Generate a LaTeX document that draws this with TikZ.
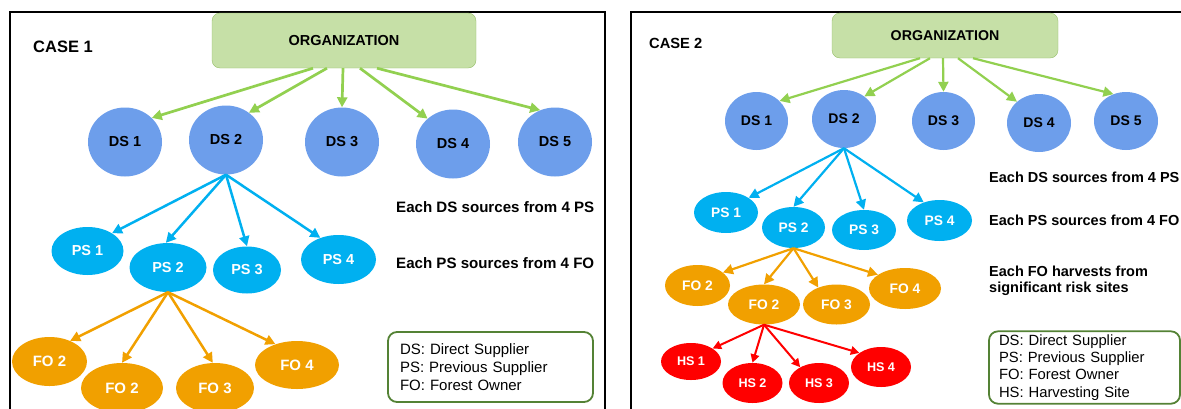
\documentclass[tikz,border=0pt]{standalone}
\usepackage{fontspec}
\setmainfont{Liberation Sans}
\usepackage{tikz}
\usetikzlibrary{arrows.meta,shapes}
\definecolor{orgfill}{RGB}{198,224,167}
\definecolor{orgline}{RGB}{150,190,105}
\definecolor{arrowgreen}{RGB}{146,208,80}
\definecolor{dsblue}{RGB}{109,158,235}
\definecolor{psblue}{RGB}{0,176,240}
\definecolor{foorange}{RGB}{241,160,0}
\definecolor{hsred}{RGB}{255,0,0}
\definecolor{keygreen}{RGB}{84,130,53}

\begin{document}
\begin{tikzpicture}[x=1pt,y=-1pt,
    orgbox/.style={rectangle,draw=orgline,fill=orgfill,rounded corners=8pt,font=\fontsize{14.5}{17}\selectfont\bfseries},
    dsnode/.style={ellipse,fill=dsblue,inner sep=0pt,minimum width=74pt,minimum height=69pt,font=\fontsize{14.5}{17}\selectfont\bfseries},
    psnode/.style={ellipse,fill=psblue,text=white,inner sep=0pt,font=\fontsize{14.5}{17}\selectfont\bfseries},
    fonode/.style={ellipse,fill=foorange,text=white,inner sep=0pt,font=\fontsize{15}{17}\selectfont\bfseries},
    hsnode/.style={ellipse,fill=hsred,text=white,inner sep=0pt,minimum width=60pt,minimum height=40pt,font=\fontsize{12.6}{15}\selectfont\bfseries},
    remark/.style={anchor=west,align=left,inner sep=0pt,font=\fontsize{14.5}{16}\selectfont\bfseries},
    keybox/.style={rectangle,draw=keygreen,line width=1.8pt,rounded corners=9pt,align=left},
    garrow/.style={-{Triangle[length=10pt,width=10pt]},line width=2.7pt,arrowgreen},
    barrow/.style={-{Triangle[length=10pt,width=10pt]},line width=2.5pt,psblue},
    oarrow/.style={-{Triangle[length=10pt,width=10pt]},line width=2.5pt,foorange},
    rarrow/.style={-{Triangle[length=8.5pt,width=8.5pt]},line width=2pt,hsred}]

    \useasboundingbox (0,0) rectangle (1181,408);
    \clip (0,0) rectangle (1181,408);

    % Case 1 (left)
    \draw[line width=2pt] (10,12) rectangle (605,430);
    \node[anchor=west,inner sep=0pt,font=\fontsize{16.5}{19}\selectfont\bfseries] (caseA) at (33,47) {CASE 1};
    \node[orgbox,minimum width=264pt,minimum height=55pt] (orgA) at (344,40.5) {ORGANIZATION};

    \node[dsnode] (dsA1) at (125,142) {DS 1};
    \node[dsnode] (dsA2) at (226,140) {DS 2};
    \node[dsnode] (dsA3) at (342,142) {DS 3};
    \node[dsnode] (dsA4) at (453,144) {DS 4};
    \node[dsnode] (dsA5) at (555,142) {DS 5};

    \node[psnode,minimum width=72pt,minimum height=48pt] (psA1) at (87.5,251) {PS 1};
    \node[psnode,minimum width=77pt,minimum height=49pt] (psA2) at (168,267.5) {PS 2};
    \node[psnode,minimum width=68pt,minimum height=47pt] (psA3) at (247,270) {PS 3};
    \node[psnode,minimum width=75pt,minimum height=49pt] (psA4) at (338.5,259.5) {PS 4};

    \node[fonode,minimum width=75pt,minimum height=49pt] (foA1) at (49.5,361.5) {FO 2};
    \node[fonode,minimum width=82pt,minimum height=50pt] (foA2) at (122,388) {FO 2};
    \node[fonode,minimum width=78pt,minimum height=50pt] (foA3) at (215,388) {FO 3};
    \node[fonode,minimum width=84pt,minimum height=48pt] (foA4) at (297,365) {FO 4};

    \node[remark,font=\fontsize{15.1}{17}\selectfont\bfseries] (noteA1) at (396,207) {Each DS sources from 4 PS};
    \node[remark,font=\fontsize{15.1}{17}\selectfont\bfseries] (noteA2) at (396,263) {Each PS sources from 4 FO};
    \node[keybox,minimum width=205pt,minimum height=70pt,text width=181pt,font=\fontsize{15}{18}\selectfont] (keyA) at (490.5,367)
        {DS: Direct Supplier\\PS: Previous Supplier\\FO: Forest Owner};

    \draw[garrow] ([xshift=-31pt]orgA.south) -- (dsA1.42);
    \draw[garrow] ([xshift=-17pt]orgA.south) -- (dsA2.50);
    \draw[garrow] ([xshift=-1pt]orgA.south) -- (dsA3.north);
    \draw[garrow] ([xshift=16pt]orgA.south) -- (dsA4.135);
    \draw[garrow] ([xshift=33pt]orgA.south) -- (dsA5.115);

    \draw[barrow] (dsA2.south) -- (psA1.36);
    \draw[barrow] (dsA2.south) -- (psA2.95);
    \draw[barrow] (dsA2.south) -- (psA3.north);
    \draw[barrow] (dsA2.south) -- (psA4.130);

    \draw[oarrow] (psA2.south) -- (foA1.45);
    \draw[oarrow] (psA2.south) -- (foA2.north);
    \draw[oarrow] (psA2.south) -- (foA3.95);
    \draw[oarrow] (psA2.south) -- (foA4.136);

    % Case 2 (right)
    \draw[line width=2pt] (631,12) rectangle (1200,430);
    \node[anchor=west,inner sep=0pt,font=\fontsize{14.7}{17}\selectfont\bfseries] (caseB) at (649,43) {CASE 2};
    \node[orgbox,minimum width=226pt,minimum height=45pt,font=\fontsize{14.2}{17}\selectfont\bfseries] (orgB) at (945,35.5) {ORGANIZATION};

    \node[dsnode,minimum width=63pt,minimum height=58pt,font=\fontsize{14}{17}\selectfont\bfseries] (dsB1) at (756.5,121) {DS 1};
    \node[dsnode,minimum width=64pt,minimum height=58pt,font=\fontsize{14}{17}\selectfont\bfseries] (dsB2) at (844,119) {DS 2};
    \node[dsnode,minimum width=63pt,minimum height=58pt,font=\fontsize{14}{17}\selectfont\bfseries] (dsB3) at (943.5,121) {DS 3};
    \node[dsnode,minimum width=64pt,minimum height=58pt,font=\fontsize{14}{17}\selectfont\bfseries] (dsB4) at (1039,123) {DS 4};
    \node[dsnode,minimum width=64pt,minimum height=58pt,font=\fontsize{14}{17}\selectfont\bfseries] (dsB5) at (1126,121) {DS 5};

    \node[psnode,minimum width=64pt,minimum height=41pt,font=\fontsize{13.8}{16}\selectfont\bfseries] (psB1) at (726,212.5) {PS 1};
    \node[psnode,minimum width=63pt,minimum height=41pt,font=\fontsize{13.8}{16}\selectfont\bfseries] (psB2) at (793.5,227.5) {PS 2};
    \node[psnode,minimum width=64pt,minimum height=40pt,font=\fontsize{13.8}{16}\selectfont\bfseries] (psB3) at (864,230) {PS 3};
    \node[psnode,minimum width=65pt,minimum height=41pt,font=\fontsize{13.8}{16}\selectfont\bfseries] (psB4) at (939.5,220.5) {PS 4};

    \node[fonode,minimum width=65pt,minimum height=41pt,font=\fontsize{13.8}{16}\selectfont\bfseries] (foB1) at (697.5,285.5) {FO 2};
    \node[fonode,minimum width=72pt,minimum height=40pt,font=\fontsize{13.8}{16}\selectfont\bfseries] (foB2) at (764,304.5) {FO 2};
    \node[fonode,minimum width=67pt,minimum height=40pt,font=\fontsize{13.8}{16}\selectfont\bfseries] (foB3) at (836.5,304.5) {FO 3};
    \node[fonode,minimum width=72pt,minimum height=41pt,font=\fontsize{13.8}{16}\selectfont\bfseries] (foB4) at (905,288.5) {FO 4};

    \node[hsnode,minimum height=37pt] (hsB1) at (691,361.5) {HS 1};
    \node[hsnode] (hsB2) at (752.5,383) {HS 2};
    \node[hsnode] (hsB3) at (819,383) {HS 3};
    \node[hsnode] (hsB4) at (881,367) {HS 4};

    \node[remark] (noteB1) at (989,177) {Each DS sources from 4 PS};
    \node[remark] (noteB2) at (989,220) {Each PS sources from 4 FO};
    \node[remark] (noteB3) at (989,281) {Each FO harvests from\\significant risk sites};
    \node[keybox,minimum width=191pt,minimum height=71pt,text width=171pt,font=\fontsize{14.8}{17.3}\selectfont] (keyB) at (1084.5,367.5)
        {DS: Direct Supplier\\PS: Previous Supplier\\FO: Forest Owner\\HS: Harvesting Site};

    \draw[garrow,line width=2.2pt] ([xshift=-25pt]orgB.south) -- (dsB1.41);
    \draw[garrow,line width=2.2pt] ([xshift=-15pt]orgB.south) -- (dsB2.48);
    \draw[garrow,line width=2.2pt] ([xshift=-2pt]orgB.south) -- (dsB3.north);
    \draw[garrow,line width=2.2pt] ([xshift=13pt]orgB.south) -- (dsB4.136);
    \draw[garrow,line width=2.2pt] ([xshift=28pt]orgB.south) -- (dsB5.115);

    \draw[barrow,line width=2.2pt] (dsB2.south) -- (psB1.33);
    \draw[barrow,line width=2.2pt] (dsB2.south) -- (psB2.north);
    \draw[barrow,line width=2.2pt] (dsB2.south) -- (psB3.north);
    \draw[barrow,line width=2.2pt] (dsB2.south) -- (psB4.131);

    \draw[oarrow,line width=2.2pt] (psB2.south) -- (foB1.27);
    \draw[oarrow,line width=2.2pt] (psB2.south) -- (foB2.north);
    \draw[oarrow,line width=2.2pt] (psB2.south) -- (foB3.137);
    \draw[oarrow,line width=2.2pt] (psB2.south) -- (foB4.153);

    \draw[rarrow] (foB2.south) -- (hsB1.31);
    \draw[rarrow] (foB2.south) -- (hsB2.north);
    \draw[rarrow] (foB2.south) -- (hsB3.140);
    \draw[rarrow] (foB2.south) -- (hsB4.147);
\end{tikzpicture}
\end{document}
